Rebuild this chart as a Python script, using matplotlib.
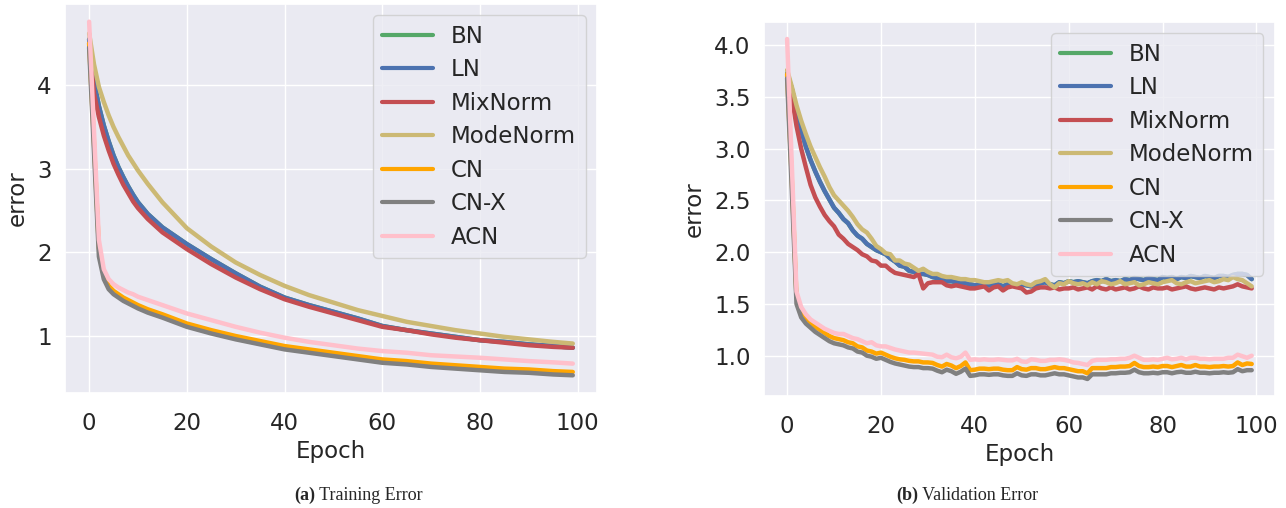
import matplotlib
matplotlib.use("Agg")
import matplotlib.pyplot as plt
import seaborn as sns
import numpy as np

train_epochs = [0, 1, 2, 3, 4, 5, 6, 7, 8, 9, 10, 12, 15, 20, 25, 30, 35, 40, 45,
                50, 55, 60, 65, 70, 75, 80, 85, 90, 95, 99]
ln_train = [4.55, 4.05, 3.75, 3.52, 3.33, 3.16, 3.02, 2.90, 2.79, 2.69, 2.60, 2.46, 2.30,
            2.10, 1.92, 1.75, 1.59, 1.46, 1.37, 1.29, 1.21, 1.12, 1.07, 1.03, 0.99, 0.95,
            0.93, 0.90, 0.88, 0.86]
bn_train = ln_train  # BN lies under LN, green not visible
mix_train = [4.50, 3.90, 3.62, 3.40, 3.22, 3.06, 2.93, 2.81, 2.71, 2.61, 2.53, 2.40, 2.24,
             2.04, 1.86, 1.70, 1.56, 1.44, 1.35, 1.27, 1.19, 1.11, 1.07, 1.02, 0.98, 0.95,
             0.92, 0.89, 0.87, 0.86]
mode_train = [4.62, 4.25, 3.98, 3.80, 3.64, 3.50, 3.38, 3.27, 3.16, 3.07, 2.98, 2.82, 2.60,
              2.29, 2.07, 1.88, 1.73, 1.60, 1.49, 1.40, 1.31, 1.24, 1.17, 1.12, 1.07, 1.03,
              0.99, 0.96, 0.93, 0.91]
cn_train = [4.50, 3.30, 2.05, 1.72, 1.60, 1.54, 1.50, 1.46, 1.43, 1.40, 1.37, 1.32, 1.26,
            1.15, 1.07, 1.00, 0.94, 0.88, 0.84, 0.80, 0.76, 0.72, 0.70, 0.67, 0.65, 0.63,
            0.61, 0.60, 0.58, 0.57]
cnx_train = [4.45, 3.20, 1.95, 1.68, 1.56, 1.50, 1.46, 1.42, 1.39, 1.36, 1.33, 1.28, 1.22,
             1.11, 1.03, 0.96, 0.90, 0.84, 0.80, 0.76, 0.72, 0.68, 0.66, 0.63, 0.61, 0.59,
             0.57, 0.56, 0.54, 0.53]
acn_train = [4.76, 3.45, 2.15, 1.80, 1.68, 1.62, 1.58, 1.55, 1.52, 1.50, 1.47, 1.43, 1.37,
             1.27, 1.19, 1.11, 1.04, 0.98, 0.93, 0.89, 0.85, 0.82, 0.80, 0.77, 0.755, 0.74,
             0.72, 0.70, 0.685, 0.67]

# validation error, every epoch 0..99
val_epochs = list(range(100))
ln_val = [3.73, 3.58, 3.38, 3.18, 3.02, 2.89, 2.78, 2.68, 2.59, 2.51,
          2.43, 2.38, 2.32, 2.28, 2.21, 2.16, 2.13, 2.08, 2.05, 2.02,
          2.00, 1.98, 1.94, 1.91, 1.87, 1.86, 1.82, 1.81, 1.79, 1.79,
          1.78, 1.76, 1.75, 1.75, 1.72, 1.72, 1.71, 1.70, 1.70, 1.69,
          1.68, 1.69, 1.70, 1.68, 1.68, 1.69, 1.67, 1.69, 1.68, 1.67,
          1.69, 1.68, 1.67, 1.69, 1.70, 1.71, 1.69, 1.68, 1.71, 1.70,
          1.72, 1.71, 1.72, 1.71, 1.70, 1.72, 1.73, 1.72, 1.74, 1.72,
          1.73, 1.72, 1.74, 1.73, 1.75, 1.74, 1.73, 1.75, 1.74, 1.73,
          1.76, 1.75, 1.76, 1.74, 1.76, 1.75, 1.77, 1.76, 1.75, 1.77,
          1.76, 1.75, 1.77, 1.77, 1.76, 1.78, 1.79, 1.79, 1.78, 1.74]
bn_val = ln_val
mix_val = [3.70, 3.50, 3.22, 3.00, 2.82, 2.65, 2.53, 2.44, 2.36, 2.30,
           2.25, 2.17, 2.13, 2.08, 2.05, 2.02, 1.98, 1.96, 1.92, 1.91,
           1.87, 1.87, 1.83, 1.80, 1.79, 1.78, 1.77, 1.76, 1.79, 1.65,
           1.70, 1.71, 1.71, 1.71, 1.68, 1.67, 1.68, 1.67, 1.66, 1.65,
           1.65, 1.66, 1.67, 1.63, 1.66, 1.67, 1.63, 1.66, 1.67, 1.66,
           1.65, 1.61, 1.62, 1.65, 1.66, 1.66, 1.65, 1.66, 1.64, 1.65,
           1.65, 1.66, 1.64, 1.65, 1.66, 1.64, 1.67, 1.65, 1.64, 1.66,
           1.64, 1.65, 1.66, 1.64, 1.65, 1.67, 1.65, 1.64, 1.66, 1.65,
           1.65, 1.66, 1.64, 1.65, 1.66, 1.67, 1.65, 1.64, 1.65, 1.66,
           1.65, 1.64, 1.66, 1.65, 1.66, 1.67, 1.69, 1.67, 1.66, 1.65]
mode_val = [3.76, 3.60, 3.42, 3.27, 3.14, 3.02, 2.92, 2.82, 2.73, 2.63,
            2.55, 2.50, 2.45, 2.40, 2.34, 2.27, 2.22, 2.19, 2.13, 2.06,
            2.03, 1.99, 1.98, 1.92, 1.92, 1.89, 1.88, 1.85, 1.82, 1.84,
            1.81, 1.79, 1.79, 1.77, 1.76, 1.76, 1.75, 1.74, 1.74, 1.73,
            1.73, 1.72, 1.71, 1.71, 1.72, 1.73, 1.72, 1.73, 1.70, 1.69,
            1.71, 1.69, 1.68, 1.71, 1.72, 1.74, 1.69, 1.66, 1.70, 1.69,
            1.72, 1.70, 1.69, 1.70, 1.68, 1.71, 1.69, 1.72, 1.71, 1.69,
            1.70, 1.72, 1.69, 1.70, 1.71, 1.68, 1.69, 1.71, 1.70, 1.69,
            1.71, 1.72, 1.73, 1.70, 1.69, 1.71, 1.72, 1.70, 1.71, 1.72,
            1.73, 1.71, 1.72, 1.74, 1.73, 1.76, 1.74, 1.73, 1.70, 1.67]
cn_val = [3.72, 2.70, 1.56, 1.43, 1.37, 1.32, 1.28, 1.25, 1.22, 1.19,
          1.17, 1.16, 1.15, 1.13, 1.12, 1.09, 1.08, 1.05, 1.04, 1.02,
          1.03, 1.01, 0.99, 0.975, 0.965, 0.96, 0.95, 0.945, 0.945, 0.935,
          0.935, 0.93, 0.91, 0.895, 0.92, 0.905, 0.88, 0.90, 0.935, 0.86,
          0.865, 0.875, 0.875, 0.87, 0.875, 0.875, 0.865, 0.86, 0.86, 0.89,
          0.87, 0.865, 0.88, 0.88, 0.87, 0.87, 0.88, 0.89, 0.88, 0.88,
          0.87, 0.86, 0.85, 0.85, 0.83, 0.88, 0.88, 0.88, 0.88, 0.89,
          0.89, 0.895, 0.895, 0.90, 0.93, 0.90, 0.89, 0.89, 0.895, 0.89,
          0.90, 0.90, 0.89, 0.90, 0.91, 0.895, 0.895, 0.91, 0.895, 0.895,
          0.89, 0.895, 0.895, 0.90, 0.895, 0.90, 0.935, 0.91, 0.925, 0.92]
cnx_val = [3.68, 2.60, 1.50, 1.37, 1.31, 1.27, 1.23, 1.20, 1.17, 1.14,
           1.12, 1.11, 1.10, 1.08, 1.07, 1.04, 1.03, 1.00, 0.99, 0.97,
           0.98, 0.96, 0.94, 0.925, 0.915, 0.905, 0.895, 0.89, 0.89, 0.88,
           0.88, 0.875, 0.855, 0.84, 0.865, 0.85, 0.825, 0.845, 0.875, 0.805,
           0.81, 0.82, 0.82, 0.815, 0.82, 0.82, 0.81, 0.805, 0.805, 0.83,
           0.81, 0.805, 0.82, 0.82, 0.81, 0.81, 0.82, 0.83, 0.82, 0.82,
           0.81, 0.80, 0.79, 0.79, 0.775, 0.82, 0.82, 0.82, 0.82, 0.83,
           0.83, 0.835, 0.835, 0.84, 0.865, 0.84, 0.83, 0.83, 0.835, 0.83,
           0.84, 0.84, 0.83, 0.84, 0.845, 0.835, 0.835, 0.845, 0.835, 0.835,
           0.83, 0.835, 0.835, 0.84, 0.835, 0.84, 0.87, 0.85, 0.86, 0.86]
acn_val = [4.06, 2.85, 1.62, 1.47, 1.40, 1.35, 1.32, 1.29, 1.26, 1.24,
           1.22, 1.21, 1.21, 1.19, 1.17, 1.16, 1.14, 1.12, 1.13, 1.10,
           1.09, 1.09, 1.075, 1.06, 1.05, 1.04, 1.03, 1.03, 1.025, 1.02,
           1.015, 1.01, 0.99, 0.985, 1.01, 0.985, 0.975, 0.99, 1.03, 0.96,
           0.965, 0.96, 0.965, 0.96, 0.96, 0.965, 0.96, 0.955, 0.955, 0.97,
           0.945, 0.94, 0.965, 0.96, 0.95, 0.95, 0.96, 0.96, 0.965, 0.96,
           0.95, 0.935, 0.93, 0.92, 0.91, 0.95, 0.96, 0.96, 0.96, 0.965,
           0.965, 0.97, 0.97, 0.98, 1.00, 0.98, 0.96, 0.96, 0.965, 0.96,
           0.97, 0.98, 0.965, 0.97, 0.98, 0.965, 0.98, 0.98, 0.97, 0.97,
           0.965, 0.97, 0.97, 0.97, 0.98, 0.98, 1.01, 0.995, 0.98, 1.00]

labels = ["BN", "LN", "MixNorm", "ModeNorm", "CN", "CN-X", "ACN"]
colors = ["g", "b", "r", "y", "orange", "gray", "pink"]

sns.set_theme(style="darkgrid", color_codes=True)
plt.rcParams["font.family"] = ["DejaVu Sans"]

fig = plt.figure(figsize=(12.86, 5.08), dpi=100)
ax1 = fig.add_axes([0.0505, 0.2264, 0.4137, 0.7657])
ax2 = fig.add_axes([0.594, 0.2205, 0.3974, 0.7362])

train = [bn_train, ln_train, mix_train, mode_train, cn_train, cnx_train, acn_train]
val = [bn_val, ln_val, mix_val, mode_val, cn_val, cnx_val, acn_val]

fs = 16.5
for ax, ep, series in [(ax1, train_epochs, train), (ax2, val_epochs, val)]:
    for ys, lab, c in zip(series, labels, colors):
        ax.plot(ep, ys, color=c, lw=3.2, label=lab)
    ax.set_xlabel("Epoch", fontsize=fs, labelpad=3)
    ax.set_ylabel("error", fontsize=fs, labelpad=6)
    ax.set_xticks([0, 20, 40, 60, 80, 100])
    ax.tick_params(labelsize=fs)
    ax.tick_params(axis="x", pad=8)
    leg = ax.legend(loc="upper right", fontsize=fs, handlelength=2.2,
                    labelspacing=0.46)
    for h in leg.get_lines():
        h.set_linewidth(3)

ax1.set_yticks([1, 2, 3, 4])
ax2.set_yticks([1.0, 1.5, 2.0, 2.5, 3.0, 3.5, 4.0])
ax2.set_yticklabels(["1.0", "1.5", "2.0", "2.5", "3.0", "3.5", "4.0"])

cap = dict(fontsize=13, family="Liberation Serif", va="center")
fig.text(315 / 1286, 0.025, "(a)", ha="right", fontweight="bold", **cap)
fig.text(315 / 1286, 0.025, " Training Error", ha="left", **cap)
fig.text(918 / 1286, 0.025, "(b)", ha="right", fontweight="bold", **cap)
fig.text(918 / 1286, 0.025, " Validation Error", ha="left", **cap)

fig.savefig("out.png", dpi=100)
